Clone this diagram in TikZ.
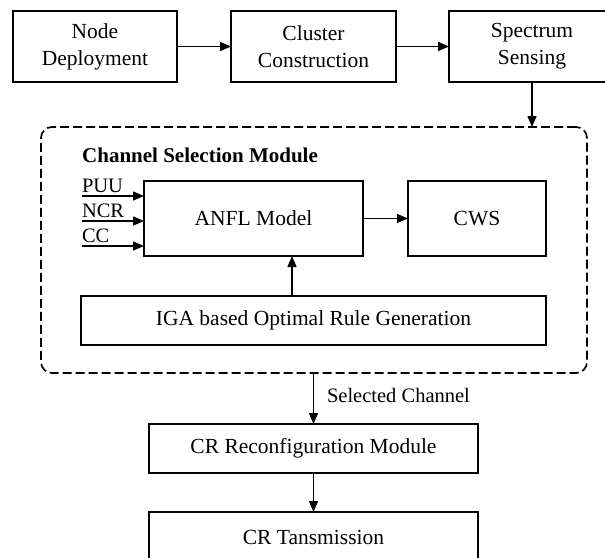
\documentclass[tikz,border=0pt]{standalone}
\usepackage{fontspec}
\setmainfont{Liberation Serif}
\usetikzlibrary{arrows.meta}
\begin{document}
\begin{tikzpicture}[x=1pt,y=-1pt,
  box/.style={draw, line width=1.8pt, inner sep=0pt, outer sep=0pt, align=center, font=\fontsize{21.5}{27}\selectfont},
  arr/.style={line width=1.5pt, -{Triangle[length=11pt,width=9pt]}},
  lbl/.style={font=\fontsize{20.5}{24}\selectfont, inner sep=0pt, outer sep=0pt, anchor=south west},
  frame/.style={draw, line width=1.7pt, dash pattern=on 9pt off 4pt, rounded corners=11pt, inner sep=0pt, outer sep=0pt}]
\useasboundingbox (0,0) rectangle (605,557);
% top row
\node[box, minimum width=164pt, minimum height=71pt] (nd) at (95,46.5) {Node\\Deployment};
\node[box, minimum width=165pt, minimum height=71pt] (cc) at (313.5,46.5) {Cluster\\Construction};
\node[box, minimum width=166pt, minimum height=71pt] (ss) at (532,46.5) {Spectrum\\Sensing};
\draw[arr] (nd) -- (cc);
\draw[arr] (cc) -- (ss);
% module frame
\node[frame, minimum width=546pt, minimum height=246pt] (csm) at (314,250) {};
\draw[arr] (ss.south) -- (ss.south |- csm.north);
\node[font=\fontsize{21}{25}\selectfont\bfseries, inner sep=0pt, anchor=west] (title) at (82,155) {Channel Selection Module};
% inner boxes
\node[box, minimum width=219pt, minimum height=75pt] (anfl) at (253.5,218.5) {ANFL Model};
\node[box, minimum width=138pt, minimum height=75pt] (cws) at (477,218.5) {CWS};
\node[box, minimum width=465pt, minimum height=49pt] (iga) at (313.5,320.5) {IGA based Optimal Rule Generation};
\draw[arr] (anfl) -- (cws);
\coordinate (up) at (292,0);
\draw[arr] (iga.north -| up) -- (anfl.south -| up);
% inputs
\coordinate (i1) at (82,196);
\coordinate (i2) at (82,221);
\coordinate (i3) at (82,246);
\draw[arr] (i1) -- (i1 -| anfl.west);
\draw[arr] (i2) -- (i2 -| anfl.west);
\draw[arr] (i3) -- (i3 -| anfl.west);
\node[lbl] (puu) at (82,193) {PUU};
\node[lbl] (ncr) at (82,218) {NCR};
\node[lbl] (ccl) at (82,243) {CC};
% bottom
\node[box, minimum width=329pt, minimum height=49pt] (crr) at (313.5,448.5) {CR Reconfiguration Module};
\node[box, minimum width=329pt, minimum height=50pt] (crt) at (313.5,537) {CR Tansmission};
\draw[arr] (csm.south -| crr.north) -- (crr.north);
\node[lbl, anchor=west] (sel) at (327,395) {Selected Channel};
\draw[arr] (crr) -- (crt);
\end{tikzpicture}
\end{document}
